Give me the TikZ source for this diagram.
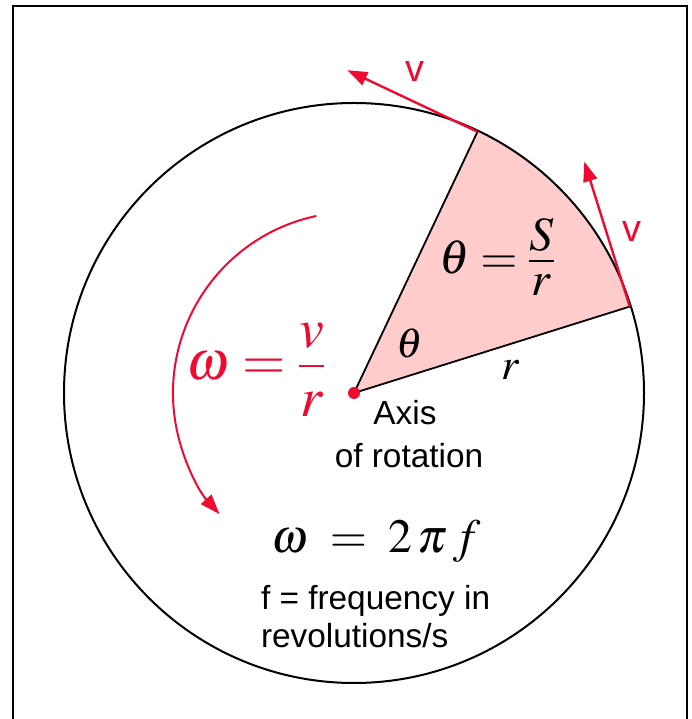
\documentclass[tikz,border=0pt]{standalone}
\usepackage{mathptmx}
\usepackage[no-math]{fontspec}
\setsansfont{Liberation Sans}
\usetikzlibrary{arrows.meta,calc}
\definecolor{vred}{RGB}{240,10,50}
\definecolor{sectorpink}{RGB}{255,204,204}
\newcommand{\numer}[2]{\smash{\raisebox{-#1}{$#2$}}}

\begin{document}
\begin{tikzpicture}[x=1bp, y=1bp,
  line width=2bp,
  vec/.style={vred, line width=2.4bp, -{Triangle[length=20bp,width=14bp]}},
  lbl/.style={font=\sffamily\fontsize{33.5}{38}\selectfont, inner sep=0pt},
  vlbl/.style={vred, font=\sffamily\fontsize{38}{44}\selectfont, inner sep=0pt},
  eq/.style={inner sep=0pt}
]
\useasboundingbox (0,0) rectangle (692,719);
% frame, open at the bottom
\draw[line width=2.2bp] (13,0) -- (13,713) -- (687,713) -- (687,0);

\coordinate (C) at (354,326);
\coordinate (A) at ($(C)+(64.7:289)$);
\coordinate (B) at ($(C)+(17.4:289)$);

% sector
\fill[sectorpink] (C) -- (B) arc[start angle=17.4, end angle=64.7, radius=289] -- cycle;
\draw[line width=1.8bp] (B) -- (C) -- (A);
\draw (C) circle[radius=290];

% velocity vectors
\coordinate (Atip) at ($(A)+(154.7:144)$);
\coordinate (Btip) at ($(B)+(107.4:152)$);
\draw[vec] (A) -- (Atip);
\draw[vec] (B) -- (Btip);
\node[vlbl] (vA) at (415,647) {v};
\node[vlbl] (vB) at (632,487) {v};

% sense of rotation
\draw[vec, line width=2bp] ($(C)+(102:181)$) arc[start angle=102, end angle=222, radius=181];
\fill[vred] (C) circle[radius=6];

% formulas
\node[eq, vred, font=\fontsize{56}{60}\selectfont] (omv) at (256,339)
  {$\displaystyle\omega=\frac{\numer{6pt}{v}}{\numer{-2pt}{r}}$};
\node[eq, font=\fontsize{48}{56}\selectfont] (thS) at (497,446)
  {$\displaystyle\theta=\frac{\numer{10pt}{S}}{\numer{-10pt}{r}}$};
\node[eq, font=\fontsize{42}{48}\selectfont] (th) at (410,376) {$\theta$};
\node[eq, font=\fontsize{44}{48}\selectfont] (rr) at (511,349) {$r$};
\node[eq, anchor=base, font=\fontsize{48}{52}\selectfont] (omf) at (376,166) {$\omega\;=\;2\,\pi\,f$};

% texts
\node[lbl, anchor=base] (axis) at (405,294) {Axis};
\node[lbl, anchor=base] (rot) at (409,251) {of rotation};
\node[lbl, anchor=base west] (freq) at (260,109) {f = frequency in};
\node[lbl, anchor=base west] (revs) at (260,71) {revolutions/s};
\end{tikzpicture}
\end{document}
